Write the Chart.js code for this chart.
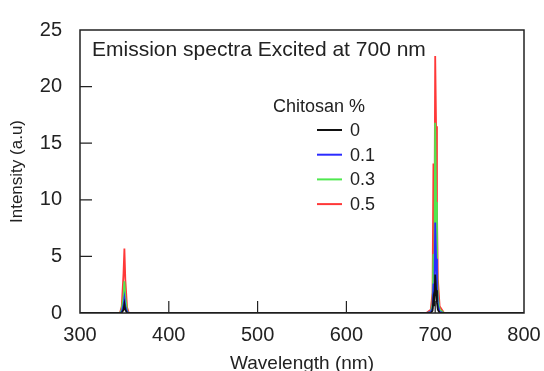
<!DOCTYPE html>
<html>
<head>
<meta charset="utf-8">
<script src="https://cdn.jsdelivr.net/npm/chart.js@4.4.1/dist/chart.umd.min.js"></script>
<style>
  html, body { margin: 0; padding: 0; background: #fff; }
  #wrap { width: 544px; height: 371px; position: relative; }
</style>
</head>
<body>
<div id="wrap"><canvas id="chart-spektrum"></canvas></div>
<script>
// data
const panjangGelombang = [300, 345, 347, 349, 350, 351, 353, 355, 690, 695, 697, 698, 699, 700, 701, 702, 703, 705, 710, 800];
const kitosan0   = [0, 0, 0.0, 0.3, 0.8, 0.3, 0.0, 0, 0, 0.0, 0.2, 1.2, 0.6, 3.4, 2.0, 0.9, 0.3, 0.0, 0, 0];
const kitosan01  = [0, 0, 0.1, 0.7, 1.3, 0.6, 0.1, 0, 0, 0.1, 0.4, 2.6, 1.5, 8.0, 4.8, 2.2, 0.7, 0.1, 0, 0];
const kitosan03  = [0, 0, 0.3, 1.5, 2.8, 1.4, 0.2, 0, 0, 0.1, 0.8, 5.2, 3.0, 16.8, 9.8, 4.5, 1.4, 0.3, 0, 0];
const kitosan05  = [0, 0, 0.6, 3.5, 5.7, 3.0, 0.5, 0, 0, 0.3, 1.8, 13.2, 5.0, 22.7, 16.5, 9.0, 3.0, 0.6, 0, 0];
const labelSeri  = ['0', '0.1', '0.3', '0.5'];
const warnaSeri  = ['#111111', '#2b2bff', '#4fe84f', '#ff3838'];
const judulPlot  = 'Emission spectra Excited at 700 nm';
const judulLegend = 'Chitosan %';

const FONT = "'Liberation Sans', Arial, sans-serif";
const teksWarna = '#222';

function keTitik(nilai) {
  return panjangGelombang.map((x, i) => ({ x: x, y: nilai[i] }));
}

// Fungsi untuk membuat dataset
function buatDataset(label, nilai, warna, urutan) {
  return {
    label: label,
    data: keTitik(nilai),
    borderColor: warna,
    backgroundColor: warna,
    borderWidth: 1.8,
    pointRadius: 0,
    tension: 0,
    fill: false,
    order: urutan
  };
}

// plugin bingkai + tick ke dalam + judul + legend
const pluginBingkai = {
  id: 'bingkai',
  afterDraw(chart) {
    const ctx = chart.ctx;
    const a = chart.chartArea;
    const sx = chart.scales.x, sy = chart.scales.y;
    ctx.save();
    ctx.strokeStyle = '#222';
    ctx.lineWidth = 1.5;
    ctx.strokeRect(a.left, a.top, a.right - a.left, a.bottom - a.top);

    // tick ke dalam
    ctx.lineWidth = 1.2;
    ctx.beginPath();
    sx.ticks.forEach(t => {
      const px = sx.getPixelForValue(t.value);
      if (px <= a.left + 1 || px >= a.right - 1) return;
      ctx.moveTo(px, a.bottom);
      ctx.lineTo(px, a.bottom - 12);
    });
    sy.ticks.forEach(t => {
      const py = sy.getPixelForValue(t.value);
      if (py <= a.top + 1 || py >= a.bottom - 1) return;
      ctx.moveTo(a.left, py);
      ctx.lineTo(a.left + 12, py);
    });
    ctx.stroke();

    // judul di dalam plot
    ctx.fillStyle = teksWarna;
    ctx.font = '21px ' + FONT;
    ctx.textAlign = 'left';
    ctx.textBaseline = 'middle';
    ctx.fillText(judulPlot, a.left + 12, a.top + 20);

    // legend
    ctx.font = '18px ' + FONT;
    ctx.fillText(judulLegend, 273, 107);
    chart.data.datasets.forEach((ds, i) => {
      const y = 130 + i * 24.7;
      ctx.strokeStyle = ds.borderColor;
      ctx.lineWidth = 2;
      ctx.beginPath();
      ctx.moveTo(317, y);
      ctx.lineTo(342, y);
      ctx.stroke();
      ctx.fillStyle = teksWarna;
      ctx.fillText(ds.label, 350, y + 1);
    });
    ctx.restore();
  }
};

const ctx = document.getElementById('chart-spektrum').getContext('2d');
new Chart(ctx, {
  type: 'line',
  data: {
    datasets: [
      buatDataset(labelSeri[0], kitosan0, warnaSeri[0], 0),
      buatDataset(labelSeri[1], kitosan01, warnaSeri[1], 1),
      buatDataset(labelSeri[2], kitosan03, warnaSeri[2], 2),
      buatDataset(labelSeri[3], kitosan05, warnaSeri[3], 3)
    ]
  },
  options: {
    responsive: true,
    maintainAspectRatio: false,
    animation: false,
    layout: { padding: { top: 22, right: 20, left: 0, bottom: 0 } },
    plugins: { legend: { display: false }, tooltip: { enabled: false } },
    scales: {
      x: {
        type: 'linear',
        min: 300, max: 800,
        grid: { display: false, drawTicks: false },
        border: { display: false },
        ticks: { stepSize: 100, padding: 10, color: teksWarna, font: { family: FONT, size: 20 }, maxRotation: 0 },
        title: { display: true, text: 'Wavelength (nm)', color: teksWarna, font: { family: FONT, size: 19, lineHeight: 1.2 }, padding: { top: 0, bottom: -4 } },
        afterFit(scale) { scale.height = 58; scale.paddingLeft = 0; scale.paddingRight = 0; }
      },
      y: {
        min: 0, max: 25,
        grid: { display: false, drawTicks: false },
        border: { display: false },
        ticks: { stepSize: 5, padding: 18, color: teksWarna, font: { family: FONT, size: 20 } },
        title: { display: true, text: 'Intensity (a.u)', color: teksWarna, font: { family: FONT, size: 17, lineHeight: 1.2 }, padding: { top: 7, bottom: 0 } },
        afterFit(scale) { scale.width = 80; }
      }
    }
  },
  plugins: [pluginBingkai]
});
</script>
</body>
</html>
